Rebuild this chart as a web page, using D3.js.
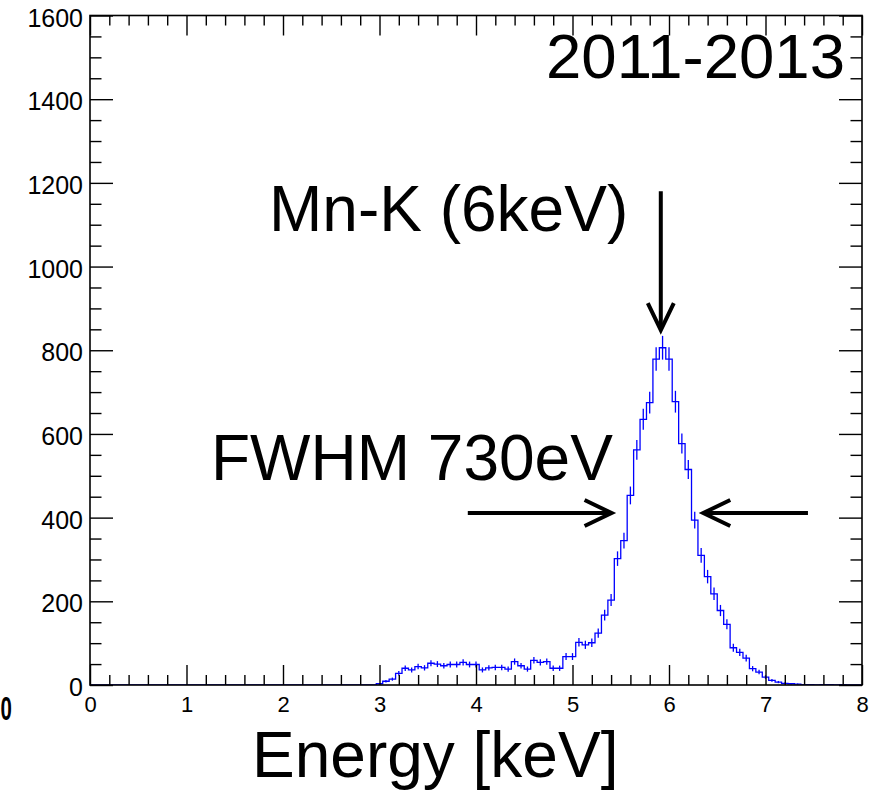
<!DOCTYPE html>
<html>
<head>
<meta charset="utf-8">
<script src="https://cdn.jsdelivr.net/npm/d3@7"></script>
<style>
  html, body { margin: 0; padding: 0; background: #fff; }
  svg { display: block; }
  text { font-family: "Liberation Sans", Arial, Helvetica, sans-serif; fill: #000; }
</style>
</head>
<body>
<svg id="chart" width="876" height="793"></svg>
<script>
// Energy spectrum: 120 bins of 1/15 keV, centred on k/15 keV (k = 0..120)
const binWidth = 1 / 15;
const counts = [
  0, 0, 0, 0, 0, 0, 0, 0, 0, 0,          // 0.00 - 0.60 keV
  0, 0, 0, 0, 0, 0, 0, 0, 0, 0,          // 0.67 - 1.27
  0, 0, 0, 0, 0, 0, 0, 0, 0, 0,          // 1.33 - 1.93
  0, 0, 0, 0, 0, 0, 0, 0, 0, 0,          // 2.00 - 2.60
  0, 0, 0, 0, 0, 3, 9, 14, 28, 40,       // 2.67 - 3.27
  36, 44, 41, 52, 50, 46, 49, 49, 54, 49, // 3.33 - 3.93
  49, 36, 41, 42, 42, 38, 56, 46, 38, 59, // 4.00 - 4.60
  54, 56, 40, 40, 68, 68, 102, 96, 101, 124, // 4.67 - 5.27
  167, 203, 302, 345, 453, 562, 635, 675, 779, 806, // 5.33 - 5.93
  779, 677, 577, 515, 394, 310, 259, 218, 178, 145, // 6.00 - 6.60
  89, 78, 64, 39, 31, 19, 11, 7, 4, 3,   // 6.67 - 7.27
  2, 1, 1, 0, 1, 1, 0, 1, 0, 0,          // 7.33 - 7.93
  0                                      // 8.00
];

const xMajorTicks = [0, 1, 2, 3, 4, 5, 6, 7, 8];
const yMajorTicks = [0, 200, 400, 600, 800, 1000, 1200, 1400, 1600];
const xDomain = [0, 8];
const yDomain = [0, 1600];

const titleText = "2011-2013";
const peakLabel = "Mn-K (6keV)";
const fwhmLabel = "FWHM 730eV";
const xTitle = "Energy [keV]";

// ---- layout ----
const svg = d3.select("#chart");
const frame = { left: 90, right: 862, top: 15.5, bottom: 685 };

svg.append("rect").attr("width", 876).attr("height", 793).attr("fill", "#fff");

const x = d3.scaleLinear().domain(xDomain).range([frame.left, frame.right]);
const y = d3.scaleLinear().domain(yDomain).range([frame.bottom, frame.top]);

svg.append("clipPath").attr("id", "plotClip")
  .append("rect")
  .attr("x", frame.left).attr("y", frame.top)
  .attr("width", frame.right - frame.left).attr("height", frame.bottom - frame.top);

// ---- histogram outline ----
const bins = counts.map((v, k) => ({ c: k * binWidth, v }));
let d = "";
bins.forEach((b, i) => {
  const x0 = x(b.c - binWidth / 2), x1 = x(b.c + binWidth / 2), yy = y(b.v);
  d += (i === 0 ? `M${x0},${yy}` : `V${yy}`) + `H${x1}`;
});

const hist = svg.append("g").attr("clip-path", "url(#plotClip)");
hist.append("path")
  .attr("d", d)
  .attr("fill", "none")
  .attr("stroke", "#0000ff")
  .attr("stroke-width", 1.3);

// Poisson error bars at bin centres
hist.selectAll("line.err")
  .data(bins.filter(b => b.v > 0))
  .join("line")
  .attr("class", "err")
  .attr("x1", b => x(b.c)).attr("x2", b => x(b.c))
  .attr("y1", b => y(b.v - Math.sqrt(b.v)))
  .attr("y2", b => y(b.v + Math.sqrt(b.v)))
  .attr("stroke", "#0000ff")
  .attr("stroke-width", 1.3);

// ---- axes ----
const xMinor = d3.range(0, 8.0001, 0.2).filter(t => Math.abs(t - Math.round(t)) > 1e-6);
const yMinor = d3.range(0, 1600.1, 50).filter(t => t % 200 !== 0);
const xTickLen = 20, yTickLen = 23;

function styleAxis(g) {
  g.select(".domain").remove();
  g.selectAll(".tick line").attr("stroke", "#000").attr("stroke-width", 1.4);
}

// bottom
svg.append("g").attr("transform", `translate(0,${frame.bottom})`)
  .call(d3.axisBottom(x).tickValues(xMajorTicks).tickSize(-xTickLen).tickPadding(11).tickFormat(d3.format("d")))
  .call(styleAxis)
  .call(g => g.selectAll("text").attr("font-size", 22).attr("font-family", "Liberation Sans, Arial, sans-serif").attr("fill", "#000"));
svg.append("g").attr("transform", `translate(0,${frame.bottom})`)
  .call(d3.axisBottom(x).tickValues(xMinor).tickSize(-xTickLen / 2).tickFormat(""))
  .call(styleAxis);
// top
svg.append("g").attr("transform", `translate(0,${frame.top})`)
  .call(d3.axisTop(x).tickValues(xMajorTicks).tickSize(-xTickLen).tickFormat(""))
  .call(styleAxis);
svg.append("g").attr("transform", `translate(0,${frame.top})`)
  .call(d3.axisTop(x).tickValues(xMinor).tickSize(-xTickLen / 2).tickFormat(""))
  .call(styleAxis);
// left
svg.append("g").attr("transform", `translate(${frame.left},0)`)
  .call(d3.axisLeft(y).tickValues(yMajorTicks).tickSize(-yTickLen).tickPadding(7).tickFormat(d3.format("d")))
  .call(styleAxis)
  .call(g => g.selectAll("text").attr("font-size", 25).attr("dy", "0.42em").attr("font-family", "Liberation Sans, Arial, sans-serif").attr("fill", "#000"));
svg.append("g").attr("transform", `translate(${frame.left},0)`)
  .call(d3.axisLeft(y).tickValues(yMinor).tickSize(-yTickLen / 2).tickFormat(""))
  .call(styleAxis);
// right
svg.append("g").attr("transform", `translate(${frame.right},0)`)
  .call(d3.axisRight(y).tickValues(yMajorTicks).tickSize(-yTickLen).tickFormat(""))
  .call(styleAxis);
svg.append("g").attr("transform", `translate(${frame.right},0)`)
  .call(d3.axisRight(y).tickValues(yMinor).tickSize(-yTickLen / 2).tickFormat(""))
  .call(styleAxis);

// frame
svg.append("rect")
  .attr("x", frame.left).attr("y", frame.top)
  .attr("width", frame.right - frame.left).attr("height", frame.bottom - frame.top)
  .attr("fill", "none").attr("stroke", "#000").attr("stroke-width", 1.6);

// narrow bold digit at the far left edge
svg.append("text")
  .attr("transform", "translate(0.5,720) scale(0.62,1)")
  .attr("font-size", 33).attr("font-weight", "bold")
  .text("0");

// ---- annotations ----
svg.append("text")
  .attr("x", 845).attr("y", 78)
  .attr("text-anchor", "end")
  .attr("font-size", 63.5)
  .text(titleText);

svg.append("text")
  .attr("x", 269).attr("y", 231)
  .attr("font-size", 64)
  .text(peakLabel);

svg.append("text")
  .attr("x", 211).attr("y", 480)
  .attr("font-size", 64)
  .text(fwhmLabel);

svg.append("text")
  .attr("x", 252).attr("y", 777)
  .attr("font-size", 64)
  .text(xTitle);

// arrows (data coordinates)
const arrowStroke = 4;
function arrow(xa, ya, xb, yb) {
  const x0 = x(xa), y0 = y(ya), x1 = x(xb), y1 = y(yb);
  const ang = Math.atan2(y1 - y0, x1 - x0);
  const hl = 27, hw = 13;
  const bx = x1 - hl * Math.cos(ang), by = y1 - hl * Math.sin(ang);
  const px = -Math.sin(ang) * hw, py = Math.cos(ang) * hw;
  const g = svg.append("g").attr("stroke", "#000").attr("stroke-width", arrowStroke).attr("fill", "none");
  g.append("line").attr("x1", x0).attr("y1", y0)
    .attr("x2", x1 - 2 * Math.cos(ang)).attr("y2", y1 - 2 * Math.sin(ang));
  g.append("polyline")
    .attr("points", `${bx + px},${by + py} ${x1},${y1} ${bx - px},${by - py}`)
    .attr("stroke-linejoin", "miter").attr("stroke-miterlimit", 10);
}
arrow(5.915, 1180, 5.915, 848);   // to the Mn-K peak
arrow(3.915, 411, 5.405, 411);    // FWHM, left edge
arrow(7.44, 411, 6.355, 411);     // FWHM, right edge
</script>
</body>
</html>
